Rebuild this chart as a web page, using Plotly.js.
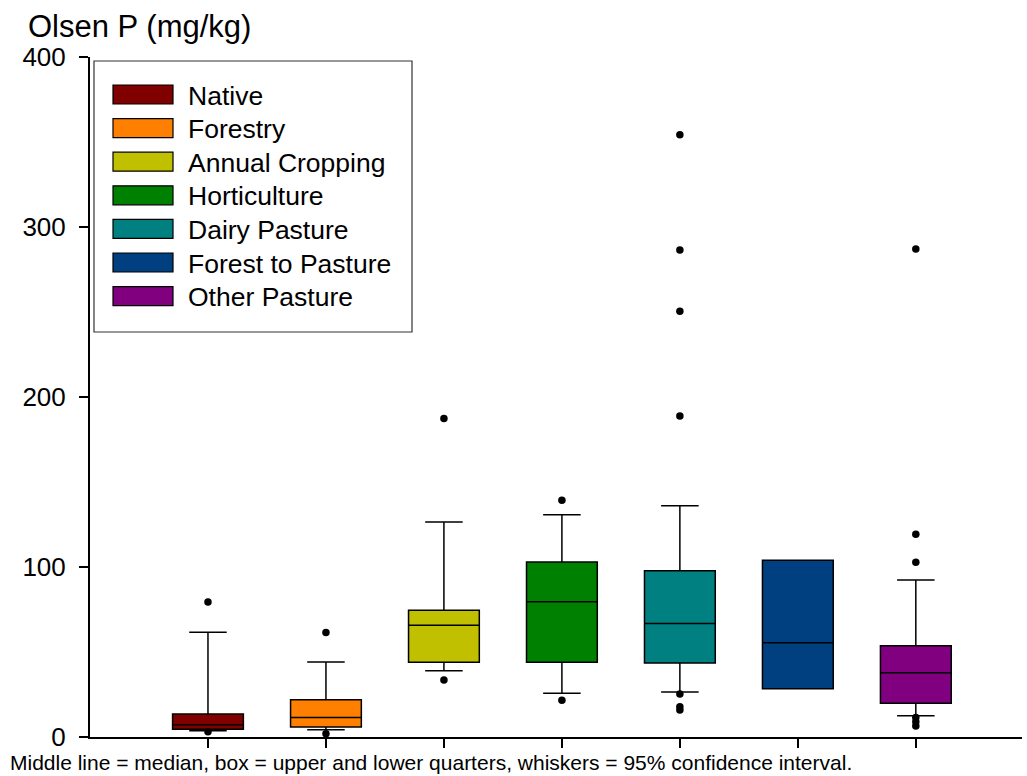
<!DOCTYPE html>
<html>
<head>
<meta charset="utf-8">
<script src="https://cdn.plot.ly/plotly-3.0.1.min.js"></script>
<style>
  html, body { margin: 0; padding: 0; background: #fff; }
  #chart { width: 1027px; height: 776px; }
</style>
</head>
<body>
<div id="chart"></div>
<script>
// Land-use categories and their fill colours
const categories = ["Native", "Forestry", "Annual Cropping", "Horticulture",
                    "Dairy Pasture", "Forest to Pasture", "Other Pasture"];
const colors = ["#800000", "#ff8000", "#c0c000", "#008000",
                "#008080", "#004080", "#800080"];

// Box statistics for Olsen P (mg/kg)
const q1     = [4.5,  5.9, 43.9, 43.9,  43.5, 28.4, 19.8];
const median = [7.2, 11.4, 65.7, 79.6,  66.7, 55.5, 37.8];
const q3     = [13.5, 21.9, 74.5, 102.9, 97.8, 103.9, 53.7];
const lowerWhisker = [3.7, 4.3, 39.0, 25.7, 26.5, 28.4, 12.5];
const upperWhisker = [61.6, 44.1, 126.5, 130.8, 136.0, 103.9, 92.4];

// Points outside the whiskers
const outliers = [
  [79.4, 3.1],
  [61.4, 1.9],
  [187.3, 33.5],
  [139.2, 21.6],
  [354.3, 286.5, 250.4, 188.8, 25.3, 17.8, 15.9],
  [],
  [287.1, 119.2, 102.8, 11.5, 9.0, 6.5]
];

const yTicks = [0, 100, 200, 300, 400];

const FONT = "Liberation Sans, Arial, Helvetica, sans-serif";

// Plot area geometry in pixels
const W = 1027, H = 776;
const M = { l: 90, r: 5, t: 57, b: 39 };
const plotW = W - M.l - M.r, plotH = H - M.t - M.b;
const px = x => (x - M.l) / plotW;          // page x -> paper x
const py = y => (H - M.b - y) / plotH;      // page y -> paper y

const traces = categories.map((name, i) => ({
  type: "box",
  name: name,
  x: [name],
  q1: [q1[i]],
  median: [median[i]],
  q3: [q3[i]],
  lowerfence: [lowerWhisker[i]],
  upperfence: [upperWhisker[i]],
  width: 0.6,
  whiskerwidth: 0.53,
  fillcolor: colors[i],
  line: { color: "#000", width: 1.5 },
  boxpoints: false,
  hoverinfo: "skip",
  showlegend: false
}));

// Outlier dots
const ox = [], oy = [];
outliers.forEach((list, i) => list.forEach(v => { ox.push(categories[i]); oy.push(v); }));
traces.push({
  type: "scatter",
  mode: "markers",
  x: ox,
  y: oy,
  marker: { color: "#000", size: 7.5, symbol: "circle" },
  hoverinfo: "skip",
  showlegend: false
});

// Legend panel drawn as shapes + text
const shapes = [{
  type: "rect", xref: "paper", yref: "paper",
  x0: px(94), x1: px(412), y0: py(332), y1: py(61),
  line: { color: "#333", width: 1.2 }, fillcolor: "rgba(255,255,255,0)"
}];
const annotations = [];
categories.forEach((name, i) => {
  const yc = 94.5 + 33.6 * i;
  shapes.push({
    type: "rect", xref: "paper", yref: "paper",
    x0: px(113), x1: px(173), y0: py(yc + 9.5), y1: py(yc - 9.5),
    line: { color: "#000", width: 1.2 }, fillcolor: colors[i]
  });
  annotations.push({
    xref: "paper", yref: "paper", x: px(186), y: py(yc + 1),
    xanchor: "left", yanchor: "middle", showarrow: false,
    text: name, font: { family: FONT, size: 26.5, color: "#000" }
  });
});

annotations.push({
  xref: "paper", yref: "paper", x: px(8), y: py(762),
  xanchor: "left", yanchor: "middle", showarrow: false,
  text: "Middle line = median, box = upper and lower quarters, whiskers = 95% confidence interval.",
  font: { family: FONT, size: 21, color: "#000" }
});

const layout = {
  width: W, height: H,
  margin: M,
  paper_bgcolor: "#fff",
  plot_bgcolor: "#fff",
  font: { family: FONT, color: "#000" },
  title: {
    text: "Olsen P (mg/kg)",
    x: 28 / W, xanchor: "left", xref: "container",
    y: 1 - 26 / H, yanchor: "middle", yref: "container",
    font: { family: FONT, size: 31, color: "#000" }
  },
  xaxis: {
    type: "category",
    categoryorder: "array",
    categoryarray: categories,
    range: [-1, 6.9],
    showticklabels: false,
    ticks: "outside", ticklen: 9, tickwidth: 1.5, tickcolor: "#000",
    showline: true, linecolor: "#000", linewidth: 2,
    showgrid: false, zeroline: false, fixedrange: true
  },
  yaxis: {
    range: [0, 400],
    tickvals: yTicks,
    ticktext: yTicks.map(String),
    ticks: "outside", ticklen: 9, tickwidth: 1.5, tickcolor: "#000",
    ticklabelstandoff: 8,
    tickfont: { family: FONT, size: 26, color: "#000" },
    showline: true, linecolor: "#000", linewidth: 2,
    showgrid: false, zeroline: false, fixedrange: true
  },
  boxmode: "overlay",
  shapes: shapes,
  annotations: annotations,
  showlegend: false
};

Plotly.newPlot("chart", traces, layout, { displayModeBar: false, staticPlot: true });
</script>
</body>
</html>
